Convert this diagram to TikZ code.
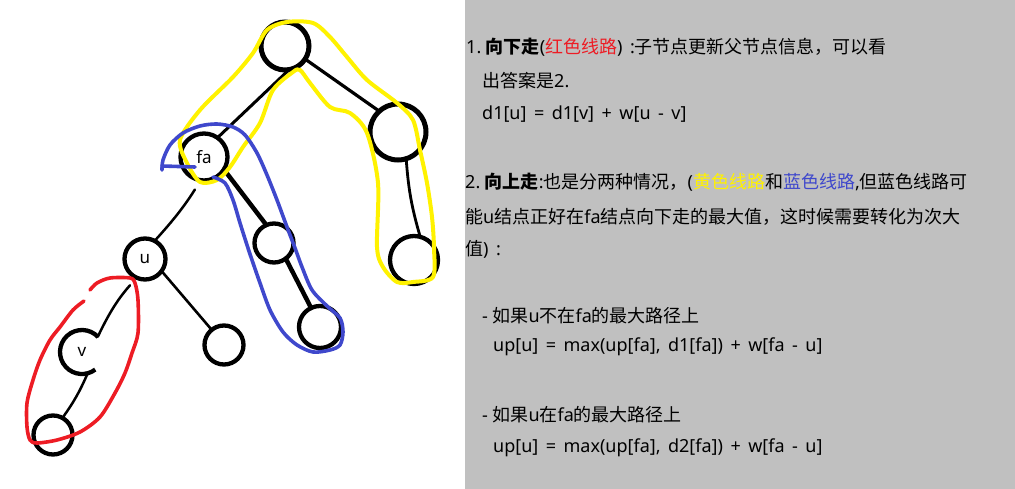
\documentclass[tikz,border=0pt]{standalone}
\usepackage{fontspec}
\setmainfont{Noto Sans}[WordSpace=1.6]
\newfontfamily\cjkf{Noto Sans CJK SC}
\newcommand\zh[1]{{\cjkf #1}}
\definecolor{mred}{HTML}{ED1C24}
\definecolor{myel}{HTML}{FFF200}
\definecolor{mblue}{HTML}{3F48CC}
\definecolor{pane}{HTML}{C0C0C0}
\begin{document}
\begin{tikzpicture}[x=1pt,y=-1pt,
  ring/.style={circle,draw=black,inner sep=0pt,outer sep=0pt,line width=4.3pt},
  edge/.style={draw=black,line width=2.8pt,line cap=round},
  thick edge/.style={draw=black,line width=4.5pt,line cap=round},
  lbl/.style={font=\fontsize{17}{18}\selectfont},
  txt/.style={anchor=base west,inner sep=0pt,font=\fontsize{18}{20}\selectfont},
  loop/.style={line width=3.6pt,line cap=round,line join=round}]
\useasboundingbox (0,0) rectangle (1015,489);
\fill[pane] (465,0) rectangle (1015,489);

% tree nodes
\node[ring,minimum size=48pt,line width=5pt] (root) at (285,46) {};
\node[ring,minimum size=56pt,line width=5pt] (R) at (398,132) {};
\node[ring,minimum size=48pt] (RR) at (414,260) {};
\node[ring,minimum size=47pt,lbl] (fa) at (204,157) {fa};
\node[ring,minimum size=39pt] (A) at (274,243) {};
\node[ring,minimum size=42pt] (B) at (320,327) {};
\node[ring,minimum size=41pt,lbl] (u) at (145,259) {u};
\node[ring,minimum size=39pt] (C) at (224,345) {};
\node[circle,inner sep=0pt,outer sep=0pt,minimum size=44pt,lbl] (v) at (82,352) {v};
\draw[line width=4.3pt] (v.43) arc[start angle=43,end angle=307,radius=22pt];
\node[ring,minimum size=39pt] (L) at (53,435) {};

% tree edges
\draw[edge,line width=3pt] (root.-80) -- (fa.55);
\draw[edge,line width=3.2pt] (root.-33) -- (R.132);
\draw[edge] (R.-73) to[bend right=6] (RR.75);
\draw[thick edge] (fa.-32) -- (A.113);
\draw[thick edge] (A.-53) -- (B.115);
\draw[edge,line width=2.5pt,shorten <=11pt] (fa.-98) to[bend left=5] (u.62);
\draw[edge,line width=2.5pt,shorten <=10pt] (u.-114) to[bend right=8] (v.44);
\draw[edge,line width=2.5pt] (v.-75) to[bend left=6] (L.61);
\draw[edge,line width=2.6pt] (u.-36) -- (C.129);

% yellow loop
\draw[loop,myel,line width=4pt] plot[smooth cycle,tension=0.5] coordinates {
 (180,140) (200,110) (233,77) (253,53) (267,30) (287,22) (313,23) (330,37)
 (347,57) (367,80) (397,103) (413,120) (420,150) (427,183) (432,217) (434,248)
 (433,277) (413,282) (397,282) (383,267) (377,247) (378,183) (367,133) (350,113)
 (330,107) (310,83) (300,70) (293,72) (273,90) (260,123) (243,147) (230,167)
 (217,180) (200,182) (187,163)};

% red loop
\draw[loop,mred] plot[smooth,tension=0.5] coordinates {
 (90,290) (97,283) (110,278) (130,278) (135,283) (138,300) (138,333) (132,353)
 (125,373) (115,393) (100,417) (80,432) (57,440) (37,443) (30,440) (27,427)
 (27,403) (33,380) (40,360) (50,340) (60,327) (73,310) (84,301)};

% blue loop
\draw[loop,mblue] plot[smooth,tension=0.5] coordinates {
 (162,170) (163,160) (170,145) (183,133) (200,126) (217,124) (233,127) (245,135)
 (257,153) (267,175) (277,200) (287,227) (295,248) (302,267) (312,290) (327,306)
 (340,318) (343,332) (340,345) (330,350) (313,352) (297,345) (283,332) (270,310)
 (260,283) (252,260) (247,245) (240,223) (233,200) (225,183) (213,177)};
\draw[loop,mblue] (162,166) -- (195,167);

% text
\node[txt] (t1) at (466,54) {1.\hspace{4.5pt}\zh{\textbf{向下走}}(\textcolor{mred}{\zh{红色线路}}) :\zh{子节点更新父节点信息，可以看}};
\node[txt] (t2) at (482,88) {\zh{出答案是}2.};
\node[txt] (t3) at (482,120) {d1[u] = d1[v] + w[u - v]};
\node[txt] (t4) at (465,189) {\textbf{2.\hspace{4.5pt}\zh{向上走}}:\zh{也是分两种情况，}(\textcolor{yellow}{\zh{黄色线路}}\zh{和}\textcolor{mblue}{\zh{蓝色线路}},\zh{但蓝色线路可}};
\node[txt] (t5) at (465,224) {\zh{能}u\zh{结点正好在}fa\zh{结点向下走的最大值，这时候需要转化为次大}};
\node[txt] (t6) at (465,256) {\zh{值}) :};
\node[txt] (t7) at (482,322) {-\hspace{4.5pt}\zh{如果}u\zh{不在}fa\zh{的最大路径上}};
\node[txt] (t8) at (493,351) {up[u] = max(up[fa], d1[fa]) + w[fa - u]};
\node[txt] (t9) at (482,421) {-\hspace{4.5pt}\zh{如果}u\zh{在}fa\zh{的最大路径上}};
\node[txt] (t10) at (493,452) {up[u] = max(up[fa], d2[fa]) + w[fa - u]};
\end{tikzpicture}
\end{document}
